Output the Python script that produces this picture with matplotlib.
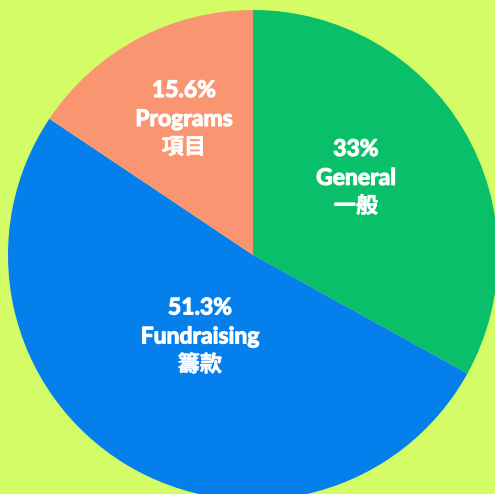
import matplotlib
matplotlib.use("Agg")
import matplotlib.pyplot as plt
import matplotlib.patheffects as pe
import numpy as np

categories = ["General", "Fundraising", "Programs"]
categories_zh = ["一般", "籌款", "項目"]
values = [33.0, 51.3, 15.6]
pct_labels = ["33%", "51.3%", "15.6%"]
colors = ["#09bf69", "#047fec", "#f99570"]
label_dist = [0.53, 0.39, 0.63]
label_ang_shift = [7.0, -2.4, -1.5]

bg = "#d4fc66"
fig = plt.figure(figsize=(4.95, 4.94), dpi=100, facecolor=bg)
ax = fig.add_axes([0, 0, 1, 1])
ax.set_facecolor(bg)

wedges, _ = ax.pie(values, colors=colors, startangle=90, counterclock=False,
                   radius=1.0, wedgeprops=dict(linewidth=0))

en_style = dict(color="white", fontsize=16.5, fontweight="bold", family="Lato",
                ha="center", va="baseline", textcoords="offset pixels",
                path_effects=[pe.withStroke(linewidth=0.8, foreground="white")])
zh_style = dict(color="white", fontsize=16, fontweight="bold",
                family="Noto Sans CJK TC", ha="center", va="baseline",
                textcoords="offset pixels",
                path_effects=[pe.withStroke(linewidth=0.3, foreground="white")])

for w, pct, en, zh, d, da in zip(wedges, pct_labels, categories, categories_zh,
                                 label_dist, label_ang_shift):
    ang = np.deg2rad((w.theta1 + w.theta2) / 2 + da)
    x, y = d * np.cos(ang), d * np.sin(ang)
    ax.annotate(pct, (x, y), xytext=(0, 20), **en_style)
    ax.annotate(en, (x, y), xytext=(0, -9), **en_style)
    ax.annotate(zh, (x, y), xytext=(0, -37), **zh_style)

s = 245.0
ax.set_xlim(-253 / s, (495 - 253) / s)
ax.set_ylim(-(494 - 255) / s, 255 / s)
ax.set_aspect("auto")
ax.axis("off")
fig.savefig("out.png", dpi=100, facecolor=bg)
